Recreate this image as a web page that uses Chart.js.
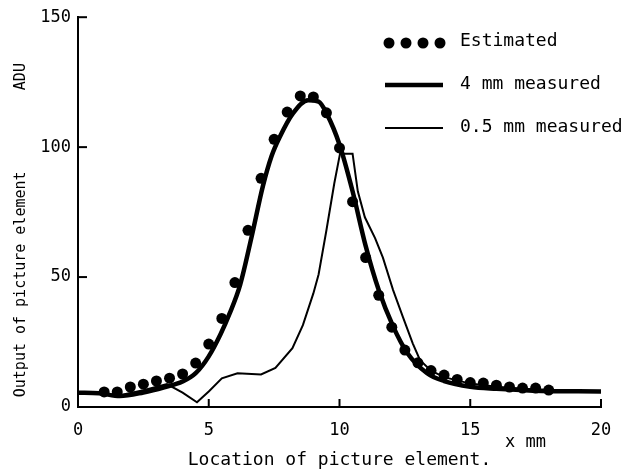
<!DOCTYPE html>
<html>
<head>
<meta charset="utf-8">
<script src="https://cdn.jsdelivr.net/npm/chart.js@4/dist/chart.umd.min.js"></script>
<style>
html,body{margin:0;padding:0;background:#fff;}
#wrap{width:627px;height:473px;position:relative;}
</style>
</head>
<body>
<div id="wrap"><canvas id="c" width="627" height="473"></canvas></div>
<script>
// ---- data ----
const estimatedX = [1,1.5,2,2.5,3,3.5,4,4.5,5,5.5,6,6.5,7,7.5,8,8.5,9,9.5,10,10.5,11,11.5,12,12.5,13,13.5,14,14.5,15,15.5,16,16.5,17,17.5,18];
const estimatedY = [5.8,5.8,7.7,8.8,10,11.1,12.7,16.9,24.2,34.1,47.9,68,88,103,113.5,119.7,119.3,113.2,99.7,79,57.5,43,30.7,21.9,17,14,12.3,10.6,9.4,9.2,8.4,7.7,7.3,7.3,6.5];

const measured4X = [0,0.8,1.6,2.5,3.3,4,4.5,5,5.45,5.8,6.2,6.65,7.07,7.4,7.72,8.22,8.8,9.2,9.52,10,10.5,11,11.5,12.05,12.58,13.35,14,15,16,17.4,20];
const measured4Y = [5.5,5.3,4.2,5.6,7.6,9.8,13,19.5,28,36,47,66,85,96.5,104,113,118,117.5,112.7,101,83,62,45,31,21,13,10,7.8,7,6.3,6];

const measured05X = [0,0.8,1.6,2.5,3.4,4,4.55,5,5.5,6.1,7,7.55,8.2,8.6,9.0,9.2,9.5,9.8,10.02,10.5,10.7,10.97,11.36,11.66,12.05,12.43,12.8,13.08,13.5,14,15,16,17,18,20];
const measured05Y = [5.5,5.3,4.5,6.5,8.8,5.5,1.8,6,11,13,12.5,15,22.6,31.5,43.7,51,68,86,97.5,97.5,83,73,65,57.5,45,34.5,24.5,18,14,11.5,9,7.8,7,6.5,6];

const xTicks = [0,5,10,15,20];
const yTicks = [0,50,100,150];
const legendLabels = ['Estimated','4 mm measured','0.5 mm measured'];

const pts = (xs, ys) => xs.map((x,i)=>({x:x,y:ys[i]}));
const MONO = '"DejaVu Sans Mono", monospace';

const decor = {
  id:'decor',
  afterDraw(chart){
    const ctx = chart.ctx;
    const xs = chart.scales.x, ys = chart.scales.y;
    const ca = chart.chartArea;
    ctx.save();
    ctx.strokeStyle = '#000';
    ctx.fillStyle = '#000';
    ctx.lineWidth = 2;
    // inward ticks
    yTicks.forEach(v=>{
      const py = ys.getPixelForValue(v);
      if (v===0) return;
      ctx.beginPath(); ctx.moveTo(ca.left, py); ctx.lineTo(ca.left+9, py); ctx.stroke();
    });
    xTicks.forEach(v=>{
      if (v===0) return;
      const px = xs.getPixelForValue(v);
      ctx.beginPath(); ctx.moveTo(px, ca.bottom); ctx.lineTo(px, ca.bottom-8); ctx.stroke();
    });
    // "x mm"
    ctx.font = '17px ' + MONO;
    ctx.textAlign = 'left';
    ctx.textBaseline = 'middle';
    ctx.fillText('x mm', 505, 443);
    // legend
    ctx.font = '18px ' + MONO;
    [389,406,423,440].forEach(x=>{ ctx.beginPath(); ctx.arc(x,43,5.5,0,Math.PI*2); ctx.fill(); });
    ctx.fillText(legendLabels[0], 460, 41);
    ctx.lineWidth = 4.5;
    ctx.beginPath(); ctx.moveTo(385,85); ctx.lineTo(443,85); ctx.stroke();
    ctx.fillText(legendLabels[1], 460, 84);
    ctx.lineWidth = 2;
    ctx.beginPath(); ctx.moveTo(385,128); ctx.lineTo(443,128); ctx.stroke();
    ctx.fillText(legendLabels[2], 460, 127);
    ctx.restore();
  }
};

new Chart(document.getElementById('c'), {
  type:'scatter',
  data:{
    datasets:[
      {label:legendLabels[0], data:pts(estimatedX, estimatedY), showLine:false, pointRadius:5.5, pointBackgroundColor:'#000', pointBorderColor:'#000', pointBorderWidth:0},
      {label:legendLabels[1], data:pts(measured4X, measured4Y), showLine:true, borderColor:'#000', borderWidth:4.5, pointRadius:0, cubicInterpolationMode:'monotone', fill:false},
      {label:legendLabels[2], data:pts(measured05X, measured05Y), showLine:true, borderColor:'#000', borderWidth:2, pointRadius:0, tension:0, fill:false}
    ]
  },
  options:{
    responsive:false,
    animation:false,
    events:[],
    layout:{padding:{top:16,right:26,left:0,bottom:0}},
    plugins:{legend:{display:false}, tooltip:{enabled:false}},
    scales:{
      x:{
        type:'linear', min:0, max:20,
        afterFit(s){ s.height = 66; },
        afterBuildTicks(s){ s.ticks = xTicks.map(v=>({value:v})); },
        grid:{display:false, drawTicks:false},
        border:{display:true, color:'#000', width:2},
        ticks:{color:'#000', padding:13, font:{family:MONO, size:17}, maxRotation:0},
        title:{display:true, text:'Location of picture element.', color:'#000', font:{family:MONO, size:18}, padding:{top:0,bottom:2}}
      },
      y:{
        type:'linear', min:0, max:150,
        afterFit(s){ s.width = 78; },
        afterBuildTicks(s){ s.ticks = yTicks.map(v=>({value:v})); },
        grid:{display:false, drawTicks:false},
        border:{display:true, color:'#000', width:2},
        ticks:{color:'#000', padding:7, font:{family:MONO, size:17}},
        title:{display:true, text:'Output of picture element         ADU    ', color:'#000', font:{family:MONO, size:15}, padding:{top:12,bottom:0}}
      }
    }
  },
  plugins:[decor]
});
</script>
</body>
</html>
